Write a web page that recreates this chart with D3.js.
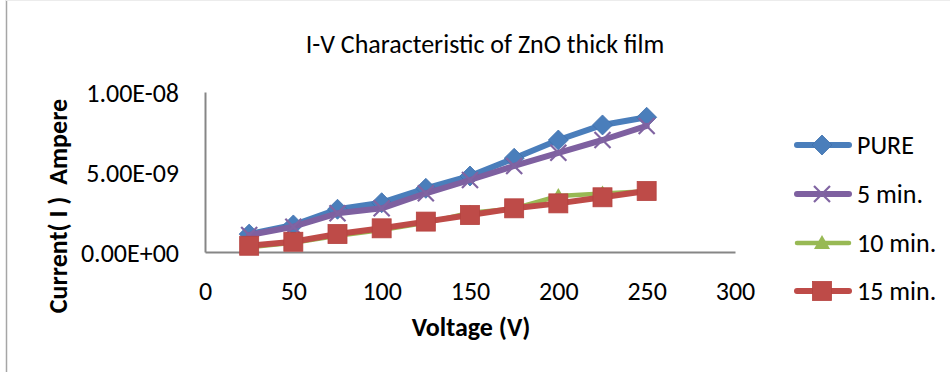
<!DOCTYPE html>
<html>
<head>
<meta charset="utf-8">
<script src="https://cdn.jsdelivr.net/npm/d3@7"></script>
<style>
  html, body { margin: 0; padding: 0; background: #fff; }
  svg { display: block; }
  text { font-family: Calibri, Carlito, Lato, "Open Sans", sans-serif; fill: #000; }
</style>
</head>
<body>
<svg id="chart" width="950" height="372"></svg>
<script>
// Applied voltage (V)
const voltages = [25, 50, 75, 100, 125, 150, 175, 200, 225, 250];

// Measured current (A) for each annealing time
const seriesNames = ["PURE", "5 min.", "10 min.", "15 min."];
const currentPure  = [1.12e-9, 1.69e-9, 2.67e-9, 3.08e-9, 3.98e-9, 4.75e-9, 5.86e-9, 7.00e-9, 7.94e-9, 8.42e-9];
const current5min  = [1.06e-9, 1.58e-9, 2.42e-9, 2.73e-9, 3.67e-9, 4.50e-9, 5.38e-9, 6.20e-9, 7.00e-9, 7.88e-9];
const current10min = [0.30e-9, 0.58e-9, 1.02e-9, 1.38e-9, 1.82e-9, 2.45e-9, 2.72e-9, 3.50e-9, 3.65e-9, 3.80e-9];
const current15min = [0.39e-9, 0.64e-9, 1.12e-9, 1.48e-9, 1.90e-9, 2.31e-9, 2.73e-9, 3.04e-9, 3.42e-9, 3.81e-9];

// Axis ticks
const xTicks = [0, 50, 100, 150, 200, 250, 300];
const yTicks = [0, 5e-9, 1e-8];

const svg = d3.select("#chart");

const x = d3.scaleLinear().domain([0, 300]).range([205, 735]);
const y = d3.scaleLinear().domain([0, 1e-8]).range([252, 92]);

// Excel-style scientific notation: 1.00E-08
function sci(v) {
  if (v === 0) return "0.00E+00";
  const e = Math.floor(Math.log10(Math.abs(v)) + 1e-12);
  const m = v / Math.pow(10, e);
  const sign = e < 0 ? "-" : "+";
  return m.toFixed(2) + "E" + sign + String(Math.abs(e)).padStart(2, "0");
}

const styles = [
  { color: "#4A7EBB", marker: "diamond",  width: 6 },
  { color: "#7E60A0", marker: "cross",    width: 6 },
  { color: "#98B954", marker: "triangle", width: 4.5 },
  { color: "#BE4B48", marker: "square",   width: 6 }
];
const values = [currentPure, current5min, current10min, current15min];

const fontFamily = "Calibri, Carlito, Lato, sans-serif";

// chart frame
svg.append("line").attr("x1", 6.5).attr("x2", 6.5).attr("y1", 0).attr("y2", 372)
  .attr("stroke", "#a6a6a6").attr("stroke-width", 1.5);
svg.append("line").attr("x1", 6).attr("x2", 950).attr("y1", 0.5).attr("y2", 0.5)
  .attr("stroke", "#ececec").attr("stroke-width", 1);

// title
svg.append("text").attr("x", 485).attr("y", 53).attr("text-anchor", "middle")
  .style("font-size", "26px").text("I-V Characteristic of ZnO thick film");

// axes
const axisColor = "#868686";
const xAxis = d3.axisBottom(x).tickValues(xTicks).tickSize(0).tickPadding(0).tickFormat(d3.format("d"));
const gx = svg.append("g").attr("transform", `translate(0,${y(0)})`).call(xAxis);
gx.select(".domain").attr("stroke", axisColor).attr("stroke-width", 2);
gx.selectAll(".tick text").attr("y", 47.5).attr("dy", null)
  .style("font-size", "26px").style("font-family", fontFamily).attr("fill", "#000");

const yAxis = d3.axisLeft(y).tickValues(yTicks).tickSize(0).tickPadding(0).tickFormat(sci);
const gy = svg.append("g").attr("transform", `translate(${x(0)},0)`).call(yAxis);
gy.select(".domain").attr("stroke", axisColor).attr("stroke-width", 2);
gy.selectAll(".tick text").attr("x", -26).attr("dy", "0.36em")
  .style("font-size", "26px").style("font-family", fontFamily).attr("fill", "#000");

// axis titles
svg.append("text").attr("x", 471).attr("y", 336).attr("text-anchor", "middle")
  .style("font-size", "26px").style("font-weight", "bold").text("Voltage (V)");
svg.append("text").attr("transform", "translate(67,206) rotate(-90)").attr("text-anchor", "middle")
  .style("font-size", "26px").style("font-weight", "bold").style("white-space", "pre")
  .text("Current( I )  Ampere");

// marker drawing
function drawMarker(g, type, color, cx, cy) {
  if (type === "diamond") {
    g.append("path").attr("d", `M${cx},${cy - 10}L${cx + 10},${cy}L${cx},${cy + 10}L${cx - 10},${cy}Z`)
      .attr("fill", color).attr("stroke", "#3f70ad").attr("stroke-width", 0.8);
  } else if (type === "square") {
    g.append("rect").attr("x", cx - 9.5).attr("y", cy - 9.5).attr("width", 19).attr("height", 19)
      .attr("fill", color).attr("stroke", "#b5423f").attr("stroke-width", 0.8);
  } else if (type === "triangle") {
    g.append("path").attr("d", `M${cx},${cy - 8}L${cx + 8},${cy + 6}L${cx - 8},${cy + 6}Z`)
      .attr("fill", color);
  } else if (type === "cross") {
    g.append("path").attr("d", `M${cx - 8},${cy - 8}L${cx + 8},${cy + 8}M${cx - 8},${cy + 8}L${cx + 8},${cy - 8}`)
      .attr("stroke", "#8064A2").attr("stroke-width", 2.2).attr("fill", "none");
  }
}

const line = d3.line().x(d => x(d[0])).y(d => y(d[1]));

values.forEach((vals, i) => {
  const st = styles[i];
  const pts = voltages.map((v, j) => [v, vals[j]]);
  const g = svg.append("g");
  g.append("path").attr("d", line(pts)).attr("fill", "none")
    .attr("stroke", st.color).attr("stroke-width", st.width)
    .attr("stroke-linejoin", "round").attr("stroke-linecap", "round");
  pts.forEach(p => drawMarker(g, st.marker, st.color, x(p[0]), y(p[1])));
});

// legend
const legendY = [145, 194, 243, 291];
seriesNames.forEach((name, i) => {
  const st = styles[i];
  const g = svg.append("g");
  g.append("line").attr("x1", 797).attr("x2", 849).attr("y1", legendY[i]).attr("y2", legendY[i])
    .attr("stroke", st.color).attr("stroke-width", st.width).attr("stroke-linecap", "round");
  drawMarker(g, st.marker, st.color, 822, legendY[i]);
  g.append("text").attr("x", 857).attr("y", legendY[i]).attr("dy", "0.36em")
    .style("font-size", "26px").text(name);
});
</script>
</body>
</html>
